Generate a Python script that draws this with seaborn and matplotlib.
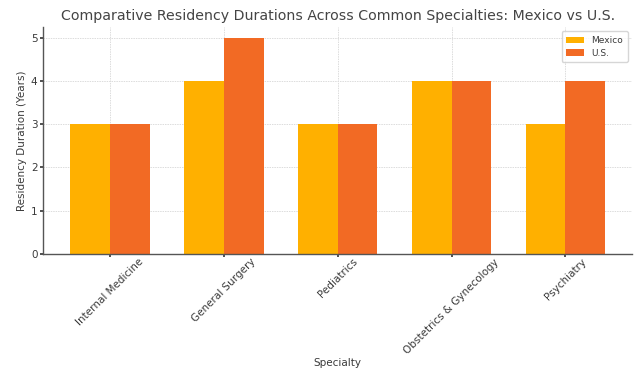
import matplotlib
matplotlib.use("Agg")
import matplotlib.pyplot as plt
import seaborn as sns
import pandas as pd

specialties = ["Internal Medicine", "General Surgery", "Pediatrics",
               "Obstetrics & Gynecology", "Psychiatry"]
mexico = [3, 4, 3, 4, 3]
us = [3, 5, 3, 4, 4]
series_names = ["Mexico", "U.S."]
colors = ["#FFB000", "#F26A24"]

df = pd.DataFrame({
    "Specialty": specialties * 2,
    "Years": mexico + us,
    "Country": [series_names[0]] * len(specialties) + [series_names[1]] * len(specialties),
})

sns.set_theme(style="whitegrid")
plt.rcParams["font.family"] = ["DejaVu Sans"]
text_color = "#3a3a3a"

fig = plt.figure(figsize=(6.34, 3.74), dpi=100)
ax = fig.add_axes([0.068, 0.321, 0.929, 0.607])

sns.barplot(data=df, x="Specialty", y="Years", hue="Country", palette=colors,
            width=0.7, gap=0, saturation=1, ax=ax, linewidth=0)

ax.set_xlim(-0.585, 4.585)
ax.set_ylim(0, 5.25)
ax.set_yticks([0, 1, 2, 3, 4, 5])
ax.grid(True, color="#dcdcdc", linestyle=(0, (1.5, 1)), linewidth=0.7)
ax.set_axisbelow(True)
for s in ["top", "right"]:
    ax.spines[s].set_visible(False)
for s in ["left", "bottom"]:
    ax.spines[s].set_color("#555555")
    ax.spines[s].set_linewidth(1)

ax.set_title("Comparative Residency Durations Across Common Specialties: Mexico vs U.S.",
             fontsize=10.2, color="#444444", pad=5)
ax.set_xlabel("Specialty", fontsize=7.5, color=text_color, labelpad=2)
ax.set_ylabel("Residency Duration (Years)", fontsize=7.5, color=text_color, labelpad=3)
ax.tick_params(axis="both", labelsize=7.5, colors=text_color, length=2, pad=2)
ax.tick_params(axis="x", bottom=True, pad=0)
ax.tick_params(axis="y", left=True)
plt.setp(ax.get_xticklabels(), rotation=45, ha="center", rotation_mode="default")

leg = ax.legend(loc="upper right", fontsize=6.5, frameon=True, title=None,
                handlelength=2, borderpad=0.5, labelspacing=0.4)
leg.get_frame().set_edgecolor("#cccccc")
for t in leg.get_texts():
    t.set_color(text_color)

fig.savefig("out.png", dpi=100)
